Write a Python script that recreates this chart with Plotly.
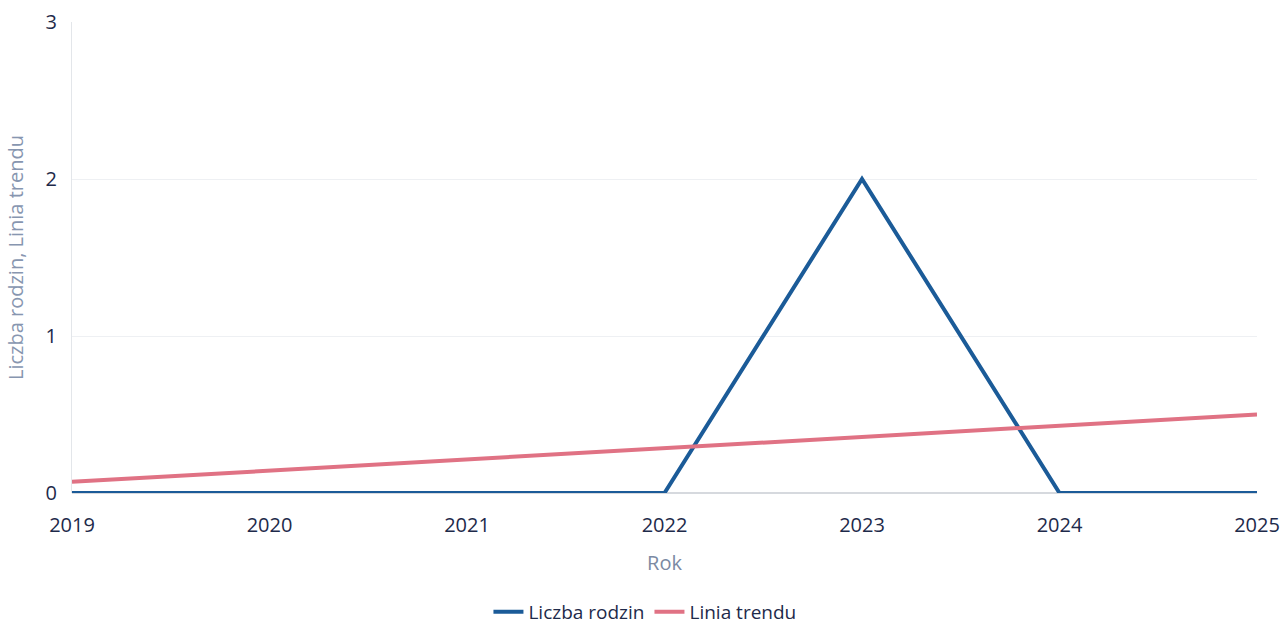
import plotly.graph_objects as go

years = [2019, 2020, 2021, 2022, 2023, 2024, 2025]
liczba_rodzin = [0, 0, 0, 0, 2, 0, 0]
linia_trendu = [0.071, 0.143, 0.214, 0.286, 0.357, 0.429, 0.5]

fig = go.Figure()
fig.add_trace(go.Scatter(x=years, y=liczba_rodzin, mode="lines", name="Liczba rodzin",
                         line=dict(color="#1b5b98", width=4)))
fig.add_trace(go.Scatter(x=years, y=linia_trendu, mode="lines", name="Linia trendu",
                         line=dict(color="#e07284", width=4)))

fig.update_layout(
    width=1283, height=626,
    margin=dict(l=72, r=26, t=22, b=133),
    paper_bgcolor="white", plot_bgcolor="white",
    font=dict(family="Open Sans", size=20, color="#1e2a4a"),
    xaxis=dict(range=[2019, 2025], tickmode="array", tickvals=years,
               ticktext=[str(y) for y in years], showgrid=False, zeroline=False,
               title=dict(text="Rok", font=dict(color="#7b8aa3", size=20), standoff=18),
               ticks="", ticklabelstandoff=18, automargin=False),
    yaxis=dict(range=[0, 3], tickvals=[0, 1, 2, 3], showgrid=True, gridcolor="#eef0f3",
               zeroline=True, zerolinecolor="#d6d9de", showline=True, linecolor="#e3e6ea",
               title=dict(text="Liczba rodzin, Linia trendu", font=dict(color="#8796b0", size=20), standoff=16),
               ticks="", ticklabelstandoff=10, automargin=False),
    legend=dict(orientation="h", x=0.4835, xanchor="center", yref="container", y=0.053,
                yanchor="top", font=dict(size=19, color="#1e2a4a")),
    showlegend=True,
)

fig.write_html("out.html", config={"displayModeBar": False},
               post_script="document.body.style.margin='0';document.body.style.overflow='hidden';")
